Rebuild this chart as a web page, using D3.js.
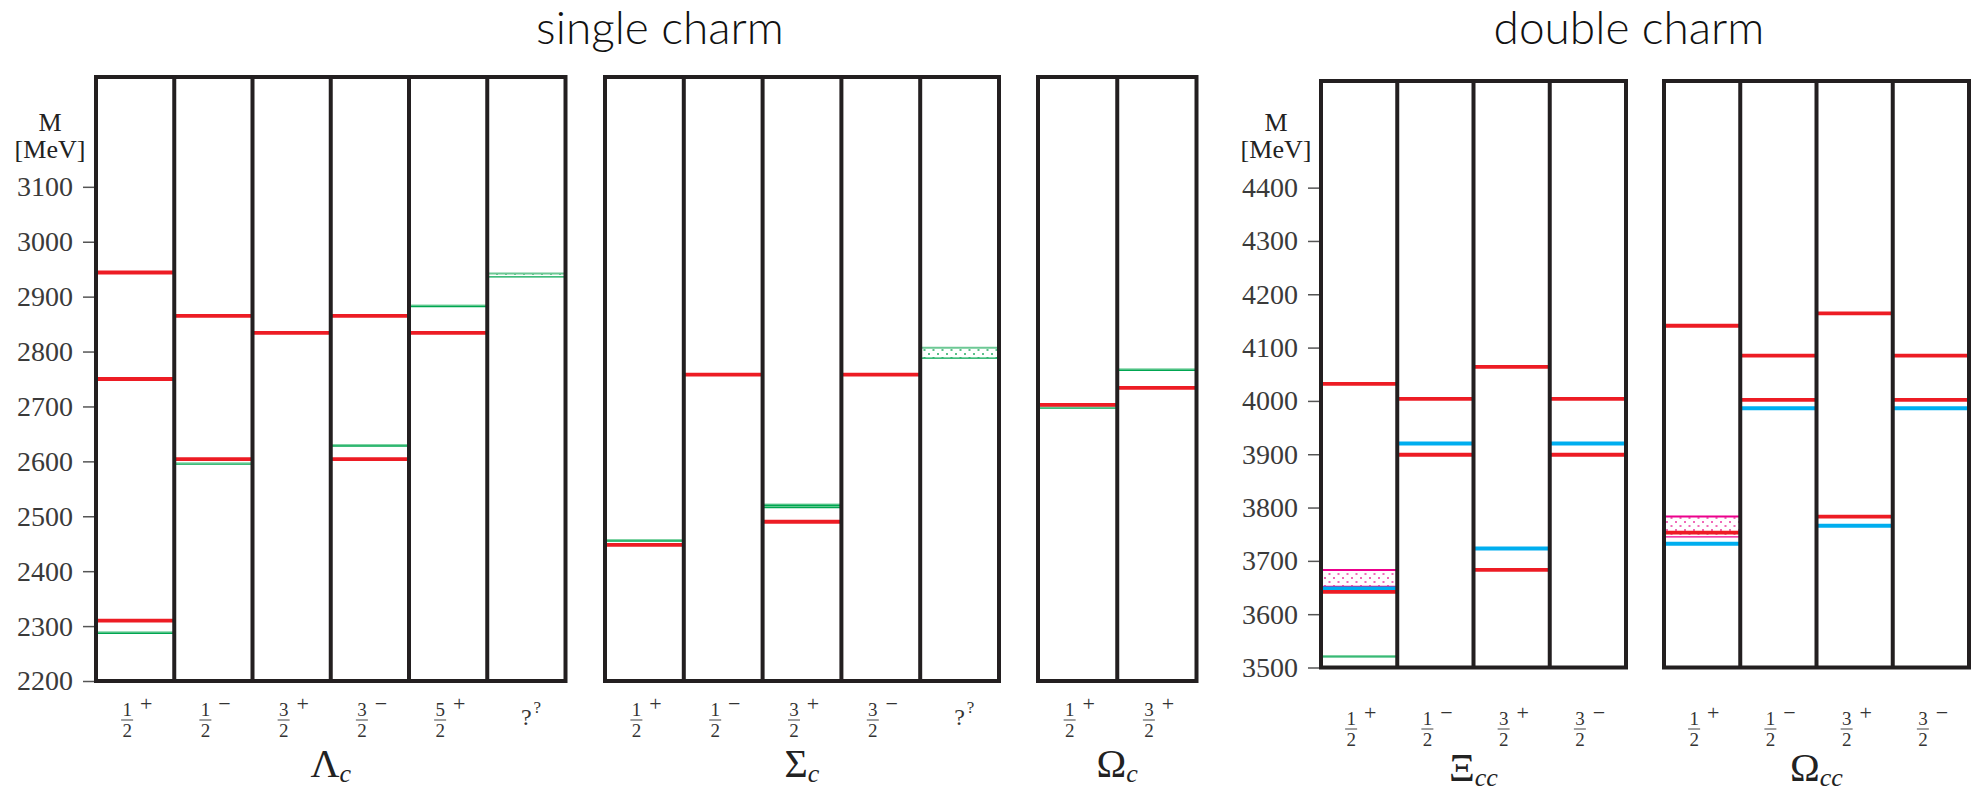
<!DOCTYPE html>
<html>
<head>
<meta charset="utf-8">
<script src="https://cdn.jsdelivr.net/npm/d3@7"></script>
<style>
  body { margin: 0; background: #fff; }
  svg { display: block; }
</style>
</head>
<body>
<svg width="1979" height="792"></svg>
<script>
// spin-parity columns of each baryon family
var lambdaCLabels = ["1/2+", "1/2-", "3/2+", "3/2-", "5/2+", "??"];
var sigmaCLabels = ["1/2+", "1/2-", "3/2+", "3/2-", "??"];
var omegaCLabels = ["1/2+", "3/2+"];
var xiCCLabels = ["1/2+", "1/2-", "3/2+", "3/2-"];
var omegaCCLabels = ["1/2+", "1/2-", "3/2+", "3/2-"];

// levels as [column, mass MeV]
var lambdaCRed = [[0, 2944], [0, 2750], [0, 2310], [1, 2865], [1, 2604], [2, 2834], [3, 2865], [3, 2604], [4, 2834]];
var lambdaCGreen = [[0, 2287], [1, 2595], [3, 2628], [4, 2882]];
var lambdaCBands = [[5, 2936, 2942]];

var sigmaCRed = [[0, 2448], [1, 2758], [2, 2490], [3, 2758]];
var sigmaCGreen = [[0, 2455], [2, 2516], [2, 2520]];
var sigmaCBands = [[4, 2788, 2807]];

var omegaCRed = [[0, 2703], [1, 2734]];
var omegaCGreen = [[0, 2697], [1, 2766]];

var xiCCRed = [[0, 4032], [0, 3642], [1, 4004], [1, 3899], [2, 4064], [2, 3683], [3, 4004], [3, 3899]];
var xiCCBlue = [[0, 3648], [1, 3920], [2, 3723], [3, 3920]];
var xiCCGreen = [[0, 3520]];
var xiCCBands = [[0, 3652, 3683]];

var omegaCCRed = [[0, 4141], [0, 3753], [1, 4085], [1, 4002], [2, 4164], [2, 3783], [3, 4085], [3, 4002]];
var omegaCCBlue = [[0, 3732], [1, 3986], [2, 3766], [3, 3986]];
var omegaCCBands = [[0, 3745, 3783]];

var singleTicks = [2200, 2300, 2400, 2500, 2600, 2700, 2800, 2900, 3000, 3100];
var doubleTicks = [3500, 3600, 3700, 3800, 3900, 4000, 4100, 4200, 4300, 4400];

var svg = d3.select("svg");
var serif = "Liberation Serif";
var ink = "#231f20";

var ySingle = d3.scaleLinear().domain([2200, 3300]).range([681, 77]);
var yDouble = d3.scaleLinear().domain([3500, 4600]).range([667.5, 81]);

var defs = svg.append("defs");
function dotPattern(id, col) {
  var p = defs.append("pattern")
    .attr("id", id)
    .attr("width", 9)
    .attr("height", 8)
    .attr("patternUnits", "userSpaceOnUse");
  p.append("rect").attr("x", 1).attr("y", 1).attr("width", 2).attr("height", 2).attr("fill", col);
  p.append("rect").attr("x", 5.5).attr("y", 5).attr("width", 2).attr("height", 2).attr("fill", col);
}
dotPattern("dotsGreen", "#5cc08a");
dotPattern("dotsPink", "#f06ab8");

function drawPanel(o) {
  var x = d3.scaleBand().domain(d3.range(o.labels.length)).range(o.xr).paddingInner(0);
  var y = o.y;
  var g = svg.append("g");
  var bw = x.bandwidth();

  (o.bands || []).forEach(function (b) {
    var top = y(b[2]), bot = y(b[1]);
    g.append("rect").attr("x", x(b[0])).attr("y", top).attr("width", bw).attr("height", bot - top)
      .attr("fill", "url(#" + (o.bandKind === "pink" ? "dotsPink" : "dotsGreen") + ")");
    g.append("line").attr("x1", x(b[0])).attr("x2", x(b[0]) + bw).attr("y1", top).attr("y2", top)
      .attr("stroke", o.bandKind === "pink" ? "#ec008c" : "#6cc894").attr("stroke-width", 2);
    g.append("line").attr("x1", x(b[0])).attr("x2", x(b[0]) + bw).attr("y1", bot).attr("y2", bot)
      .attr("stroke", o.bandKind === "pink" ? "#ec008c" : "#00a651").attr("stroke-width", 1.3);
  });

  (o.green || []).forEach(function (d) {
    g.append("line").attr("x1", x(d[0])).attr("x2", x(d[0]) + bw)
      .attr("y1", y(d[1]) - 1.2).attr("y2", y(d[1]) - 1.2)
      .attr("stroke", "#7fd3a4").attr("stroke-width", 1.4);
    g.append("line").attr("x1", x(d[0])).attr("x2", x(d[0]) + bw)
      .attr("y1", y(d[1])).attr("y2", y(d[1]))
      .attr("stroke", "#00a651").attr("stroke-width", 1.4);
  });

  g.selectAll(".blue").data(o.blue || []).join("line")
    .attr("x1", function (d) { return x(d[0]); })
    .attr("x2", function (d) { return x(d[0]) + bw; })
    .attr("y1", function (d) { return y(d[1]); })
    .attr("y2", function (d) { return y(d[1]); })
    .attr("stroke", "#00aeef").attr("stroke-width", 4);

  g.selectAll(".red").data(o.red || []).join("line")
    .attr("x1", function (d) { return x(d[0]); })
    .attr("x2", function (d) { return x(d[0]) + bw; })
    .attr("y1", function (d) { return y(d[1]); })
    .attr("y2", function (d) { return y(d[1]); })
    .attr("stroke", "#ed1c24").attr("stroke-width", 3.8);

  // frame and column separators
  var y0 = y.range()[1], y1 = y.range()[0];
  g.append("rect").attr("x", o.xr[0]).attr("y", y0)
    .attr("width", o.xr[1] - o.xr[0]).attr("height", y1 - y0)
    .attr("fill", "none").attr("stroke", ink).attr("stroke-width", 4);
  for (var i = 1; i < o.labels.length; i++) {
    g.append("line").attr("x1", x(i)).attr("x2", x(i)).attr("y1", y0).attr("y2", y1)
      .attr("stroke", ink).attr("stroke-width", 4);
  }

  // J^P labels
  o.labels.forEach(function (lab, i) {
    var cx = x(i) + bw / 2;
    var bar = o.bar;
    if (lab === "??") {
      g.append("text").attr("x", cx).attr("y", bar + 5).attr("text-anchor", "middle")
        .attr("font-family", serif).attr("font-size", 24).attr("fill", "#333").text("?");
      g.append("text").attr("x", cx + 11).attr("y", bar - 7).attr("text-anchor", "middle")
        .attr("font-family", serif).attr("font-size", 17).attr("fill", "#333").text("?");
      return;
    }
    var num = lab.split("/")[0];
    var den = lab.split("/")[1].slice(0, 1);
    var sign = lab.slice(-1) === "+" ? "+" : "\u2212";
    var fx = cx - 8;
    g.append("text").attr("x", fx).attr("y", bar - 4).attr("text-anchor", "middle")
      .attr("font-family", serif).attr("font-size", 19).attr("fill", "#333").text(num);
    g.append("line").attr("x1", fx - 6).attr("x2", fx + 6).attr("y1", bar).attr("y2", bar)
      .attr("stroke", "#444").attr("stroke-width", 1);
    g.append("text").attr("x", fx).attr("y", bar + 17).attr("text-anchor", "middle")
      .attr("font-family", serif).attr("font-size", 19).attr("fill", "#333").text(den);
    g.append("text").attr("x", cx + 11).attr("y", bar - 9).attr("text-anchor", "middle")
      .attr("font-family", serif).attr("font-size", 22).attr("fill", "#333").text(sign);
  });

  // family name
  var nm = g.append("text")
    .attr("x", (o.xr[0] + o.xr[1]) / 2)
    .attr("y", o.nameY)
    .attr("text-anchor", "middle")
    .attr("font-family", serif)
    .attr("fill", "#222");
  nm.append("tspan").attr("font-size", 40).text(o.name);
  nm.append("tspan").attr("font-size", 26).attr("font-style", "italic").attr("dy", 5).text(o.sub);
  return g;
}

function drawAxis(xPos, y, ticks, labelX) {
  var ax = svg.append("g")
    .attr("transform", "translate(" + xPos + ",0)")
    .call(d3.axisLeft(y).tickValues(ticks).tickSize(13).tickPadding(10).tickFormat(d3.format("d")));
  ax.select(".domain").remove();
  ax.selectAll(".tick line").attr("stroke", "#555").attr("stroke-width", 1.5);
  ax.selectAll(".tick text").attr("font-family", serif).attr("font-size", 28).attr("fill", "#3a3a3a");
  svg.append("text").attr("x", labelX).attr("y", 131).attr("text-anchor", "middle")
    .attr("font-family", serif).attr("font-size", 26).attr("fill", "#222").text("M");
  svg.append("text").attr("x", labelX).attr("y", 158).attr("text-anchor", "middle")
    .attr("font-family", serif).attr("font-size", 26).attr("fill", "#222").text("[MeV]");
}

drawAxis(96, ySingle, singleTicks, 50);
drawAxis(1321, yDouble, doubleTicks, 1276);

drawPanel({ labels: lambdaCLabels, xr: [96, 565.5], y: ySingle, red: lambdaCRed, green: lambdaCGreen,
  bands: lambdaCBands, bandKind: "green", bar: 720, nameY: 777, name: "\u039B", sub: "c" });
drawPanel({ labels: sigmaCLabels, xr: [605, 999], y: ySingle, red: sigmaCRed, green: sigmaCGreen,
  bands: sigmaCBands, bandKind: "green", bar: 720, nameY: 777, name: "\u03A3", sub: "c" });
drawPanel({ labels: omegaCLabels, xr: [1038, 1196.5], y: ySingle, red: omegaCRed, green: omegaCGreen,
  bar: 720, nameY: 777, name: "\u03A9", sub: "c" });
drawPanel({ labels: xiCCLabels, xr: [1321, 1626], y: yDouble, red: xiCCRed, blue: xiCCBlue, green: xiCCGreen,
  bands: xiCCBands, bandKind: "pink", bar: 729, nameY: 781, name: "\u039E", sub: "cc" });
drawPanel({ labels: omegaCCLabels, xr: [1664, 1969], y: yDouble, red: omegaCCRed, blue: omegaCCBlue,
  bands: omegaCCBands, bandKind: "pink", bar: 729, nameY: 781, name: "\u03A9", sub: "cc" });

// group titles
svg.append("text").attr("x", 660).attr("y", 44).attr("text-anchor", "middle")
  .attr("font-family", "Lato").attr("font-weight", 300)
  .attr("font-size", 46).attr("fill", "#111").text("single charm");
svg.append("text").attr("x", 1629).attr("y", 44).attr("text-anchor", "middle")
  .attr("font-family", "Lato").attr("font-weight", 300)
  .attr("font-size", 46).attr("fill", "#111").text("double charm");
</script>
</body>
</html>
